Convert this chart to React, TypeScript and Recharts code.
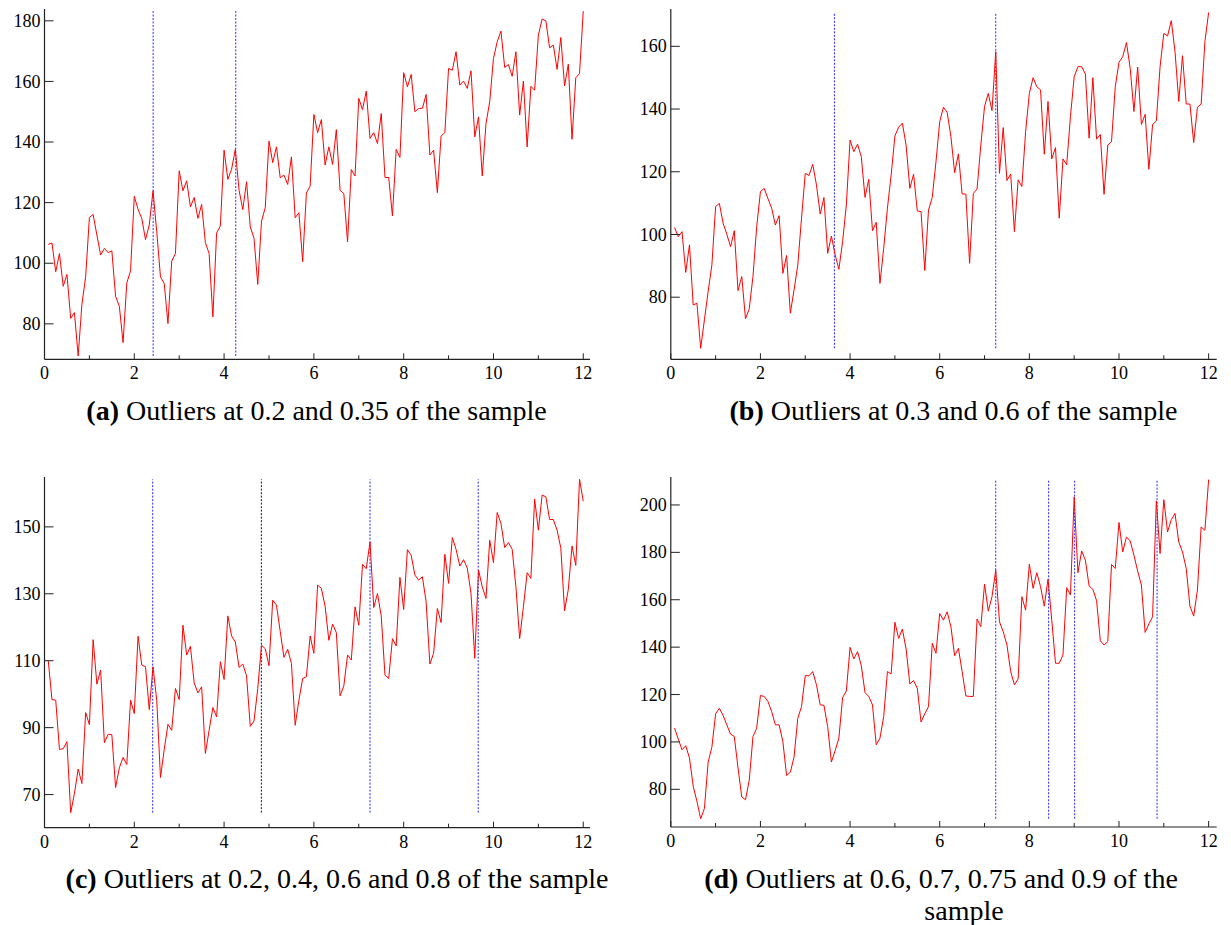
import React from "react";
import { LineChart, Line, XAxis, YAxis, ReferenceLine } from "recharts";

// month positions 1/12 .. 12 (one point per month over 12 years)
const months = Array.from({ length: 144 }, (_u, i) => (i + 1) / 12);
const xTicks = [0, 1, 2, 3, 4, 5, 6, 7, 8, 9, 10, 11, 12];

const seriesA = [
  106.2, 106.7, 97.2, 103.2, 92.4, 96.3, 81.8, 83.7, 69.4, 86.5, 95.5, 115.1,
  116.1, 109.3, 102.7, 104.9, 103.5, 104.1, 89.1, 85.8, 73.8, 93.5, 97.5, 122.1,
  117.8, 114.8, 107.8, 112.6, 123.9, 110.4, 95.5, 93.3, 80.1, 100.7, 103.2, 130.5,
  123.9, 127.2, 118.6, 121.7, 114.8, 119.4, 106.8, 103.2, 82.3, 110.0, 112.3, 137.3,
  127.7, 131.0, 137.6, 124.1, 117.7, 126.9, 112.0, 108.2, 93.0, 113.9, 118.3, 140.3,
  133.2, 138.4, 128.2, 129.1, 126.0, 135.1, 115.0, 116.7, 100.5, 123.2, 125.5, 149.1,
  143.1, 147.4, 132.4, 138.4, 132.6, 144.1, 124.1, 123.0, 107.1, 130.9, 128.8, 154.4,
  150.7, 156.8, 141.2, 143.1, 139.5, 149.4, 128.3, 128.3, 115.6, 137.6, 134.9, 162.9,
  158.2, 162.3, 150.0, 151.1, 151.1, 155.7, 135.7, 137.3, 123.3, 142.0, 143.1, 164.3,
  163.7, 169.8, 158.8, 160.1, 157.7, 163.5, 141.7, 148.3, 128.8, 146.1, 153.3, 167.6,
  173.1, 176.6, 164.6, 165.6, 161.7, 169.8, 148.9, 160.1, 138.4, 158.4, 157.1, 175.3,
  180.6, 180.0, 171.1, 172.0, 164.0, 174.5, 158.5, 165.7, 140.9, 161.2, 162.6, 183.2,
];

const seriesB = [
  102.2, 99.3, 100.9, 87.9, 96.7, 77.5, 78.1, 63.7, 72.8, 81.8, 90.3, 108.9,
  109.9, 103.6, 100.1, 96.1, 101.2, 82.1, 86.6, 73.1, 76.3, 86.6, 102.5, 113.7,
  114.7, 111.5, 108.4, 103.0, 106.0, 87.6, 93.3, 74.9, 82.3, 90.3, 105.2, 119.5,
  118.8, 122.4, 115.8, 106.5, 111.8, 94.0, 99.5, 93.5, 88.9, 97.7, 109.4, 130.1,
  126.4, 128.8, 124.8, 111.8, 117.6, 101.2, 103.9, 84.4, 95.6, 108.4, 119.0, 131.4,
  134.2, 135.5, 128.5, 114.7, 119.2, 107.5, 107.3, 88.5, 107.8, 111.8, 123.2, 136.0,
  140.6, 138.9, 131.2, 119.7, 125.7, 112.9, 112.9, 90.8, 113.1, 114.5, 128.5, 140.8,
  145.0, 139.5, 158.3, 119.5, 134.1, 117.2, 119.3, 100.9, 117.4, 115.3, 132.8, 145.0,
  150.0, 147.1, 146.1, 125.6, 142.4, 124.1, 127.7, 105.2, 124.1, 122.2, 137.6, 150.3,
  153.5, 153.5, 151.2, 130.7, 150.0, 130.4, 131.9, 112.8, 128.5, 129.6, 147.1, 154.9,
  156.7, 161.2, 153.0, 139.2, 153.4, 135.1, 138.3, 120.8, 135.1, 136.2, 153.5, 164.1,
  163.3, 168.2, 158.3, 142.4, 157.0, 141.6, 141.6, 129.3, 140.6, 141.6, 161.5, 170.8,
];

const seriesC = [
  110.0, 98.4, 98.2, 83.5, 83.7, 85.8, 64.6, 70.3, 77.6, 73.3, 94.5, 90.9,
  116.3, 103.0, 107.2, 85.5, 88.0, 87.9, 72.1, 78.0, 81.1, 79.0, 98.2, 94.2,
  117.3, 108.7, 108.2, 95.4, 108.2, 98.2, 75.1, 83.5, 91.0, 89.2, 101.7, 98.4,
  120.6, 111.7, 114.3, 103.4, 100.4, 102.2, 82.3, 89.2, 96.0, 93.2, 109.7, 104.4,
  123.4, 117.4, 115.6, 108.0, 109.0, 105.5, 90.4, 92.0, 101.7, 114.6, 113.6, 108.5,
  128.1, 126.6, 118.8, 111.0, 113.4, 109.2, 90.7, 98.2, 104.7, 105.2, 117.4, 112.2,
  132.6, 131.6, 126.3, 116.1, 120.9, 118.4, 99.5, 102.5, 111.7, 110.2, 126.1, 120.6,
  138.8, 137.5, 145.5, 125.9, 130.1, 123.4, 105.7, 104.7, 116.6, 114.4, 134.9, 125.3,
  143.2, 141.5, 135.6, 134.1, 135.1, 127.6, 109.0, 112.2, 125.6, 121.4, 141.8, 133.1,
  146.8, 143.3, 138.3, 140.2, 137.7, 130.1, 110.7, 137.1, 132.1, 128.6, 146.0, 139.3,
  154.3, 151.0, 143.8, 145.3, 143.3, 132.1, 116.6, 126.1, 136.3, 134.6, 158.3, 149.0,
  159.5, 159.0, 152.2, 152.2, 149.0, 143.7, 124.9, 131.3, 144.3, 138.5, 164.2, 157.7,
];

const seriesD = [
  105.8, 101.2, 96.7, 98.4, 93.2, 81.3, 74.9, 67.6, 71.9, 91.5, 97.8, 111.9,
  114.2, 111.2, 107.2, 103.3, 102.3, 89.0, 76.8, 75.6, 83.8, 102.3, 105.8, 119.6,
  119.2, 117.1, 112.8, 107.2, 107.2, 100.2, 85.8, 87.2, 93.6, 110.0, 114.9, 128.0,
  127.9, 129.7, 124.1, 115.6, 115.5, 106.5, 91.5, 96.3, 101.6, 118.7, 121.5, 139.9,
  135.0, 138.1, 132.2, 120.8, 119.2, 115.6, 98.8, 101.6, 110.7, 129.7, 128.7, 150.5,
  143.7, 147.6, 139.2, 124.5, 125.9, 122.7, 108.4, 111.9, 114.9, 141.6, 137.4, 154.2,
  151.4, 154.9, 148.6, 136.4, 139.5, 129.7, 119.4, 119.2, 119.2, 151.9, 148.6, 166.6,
  155.2, 161.3, 172.5, 150.7, 146.5, 140.9, 129.7, 124.1, 126.6, 161.3, 155.6, 175.0,
  164.8, 171.4, 165.5, 157.3, 168.7, 151.4, 133.2, 133.2, 136.7, 165.1, 162.0, 203.4,
  171.4, 180.6, 176.7, 165.8, 164.4, 159.6, 142.7, 140.9, 142.3, 174.9, 173.2, 192.6,
  180.2, 186.5, 184.8, 178.8, 172.1, 166.2, 146.2, 149.8, 152.8, 201.7, 179.5, 202.2,
  188.6, 193.8, 196.4, 184.4, 180.2, 173.2, 157.3, 153.1, 164.1, 190.7, 189.3, 210.7,
];

const yTicksA = [80, 100, 120, 140, 160, 180];
const yTicksB = [80, 100, 120, 140, 160];
const yTicksC = [70, 90, 110, 130, 150];
const yTicksD = [80, 100, 120, 140, 160, 180, 200];

const outliersA = [2.42, 4.26];
const outliersB = [3.65, 7.25];
const outliersC = [2.41, 4.83, 7.25, 9.66];
const outliersD = [7.25, 8.43, 9.01, 10.85];

const FONT = "'Liberation Serif', 'Times New Roman', serif";

function YTick(props: any) {
  const { x, y, payload } = props;
  return (
    <g>
      <line x1={x} y1={y} x2={x + 9} y2={y} stroke="#222" strokeWidth={1} />
      <text x={x - 4} y={y} dy="0.34em" textAnchor="end" fontFamily={FONT} fontSize={18} fill="#000">
        {payload.value}
      </text>
    </g>
  );
}

function XTick(props: any) {
  const { x, y, payload } = props;
  const major = payload.value % 2 === 0;
  return (
    <g>
      <line x1={x} y1={y} x2={x} y2={y - (major ? 6 : 4)} stroke="#222" strokeWidth={1} />
      {major && (
        <text x={x} y={y + 20} textAnchor="middle" fontFamily={FONT} fontSize={18} fill="#000">
          {payload.value}
        </text>
      )}
    </g>
  );
}

interface PanelProps {
  values: number[];
  left: number;
  top: number;
  yAxisWidth: number;
  rightMargin: number;
  xAxisHeight: number;
  xMax: number;
  yDomain: [number, number];
  yTicks: number[];
  outliers: number[];
  darkIndex?: number;
}

function Panel({ values, left, top, yAxisWidth, rightMargin, xAxisHeight, xMax, yDomain, yTicks, outliers, darkIndex }: PanelProps) {
  const rows = months.map((t, i) => ({ t, v: values[i] }));
  const lo = Math.min(...values);
  const hi = Math.max(...values);
  return (
    <div style={{ position: "absolute", left, top }}>
      <LineChart width={600} height={400} data={rows} margin={{ top: 9, right: rightMargin, bottom: 0, left: 0 }}>
        <XAxis
          dataKey="t"
          type="number"
          domain={[0, xMax]}
          ticks={xTicks}
          interval={0}
          allowDataOverflow
          height={xAxisHeight}
          tickSize={0}
          tickMargin={0}
          tickLine={false}
          axisLine={{ stroke: "#222", strokeWidth: 1.2 }}
          tick={(p: any) => <XTick {...p} />}
        />
        <YAxis
          type="number"
          domain={yDomain}
          ticks={yTicks}
          interval={0}
          allowDataOverflow
          width={yAxisWidth}
          tickSize={0}
          tickMargin={0}
          tickLine={false}
          axisLine={{ stroke: "#222", strokeWidth: 1.2 }}
          tick={(p: any) => <YTick {...p} />}
        />
        {outliers.map((o, k) => (
          <ReferenceLine
            key={k}
            segment={[{ x: o, y: lo }, { x: o, y: hi }]}
            stroke={k === darkIndex ? "#111133" : "#2a2aff"}
            strokeWidth={1}
            strokeDasharray="2 1.5"
            ifOverflow="visible"
          />
        ))}
        <Line type="linear" dataKey="v" stroke="#ff0000" strokeWidth={1} dot={false} isAnimationActive={false} />
      </LineChart>
    </div>
  );
}

const captionStyle: React.CSSProperties = {
  position: "absolute",
  transform: "translate(-50%, -50%)",
  whiteSpace: "nowrap",
  fontFamily: FONT,
  fontSize: 28,
  color: "#000",
  lineHeight: 1,
};

export default function App() {
  return (
    <div style={{ position: "absolute", left: 0, top: 0, width: 1231, height: 925, background: "#fff" }}>
      <Panel values={seriesA} left={0} top={0} yAxisWidth={44.5} rightMargin={10} xAxisHeight={40.7} xMax={12.15} yDomain={[68.3, 183.9]} yTicks={yTicksA} outliers={outliersA} />
      <Panel values={seriesB} left={626} top={0} yAxisWidth={44.8} rightMargin={9.3} xAxisHeight={40.7} xMax={12.18} yDomain={[60.2, 171.9]} yTicks={yTicksB} outliers={outliersB} />
      <Panel values={seriesC} left={0} top={468} yAxisWidth={44.5} rightMargin={10} xAxisHeight={40.3} xMax={12.15} yDomain={[60.1, 164.9]} yTicks={yTicksC} outliers={outliersC} darkIndex={1} />
      <Panel values={seriesD} left={626} top={468} yAxisWidth={44.8} rightMargin={9.3} xAxisHeight={41} xMax={12.18} yDomain={[64.1, 211.8]} yTicks={yTicksD} outliers={outliersD} />

      <div style={{ ...captionStyle, left: 316.5, top: 411 }}>
        <b>(a)</b> Outliers at 0.2 and 0.35 of the sample
      </div>
      <div style={{ ...captionStyle, left: 953.5, top: 411 }}>
        <b>(b)</b> Outliers at 0.3 and 0.6 of the sample
      </div>
      <div style={{ ...captionStyle, left: 337, top: 879 }}>
        <b>(c)</b> Outliers at 0.2, 0.4, 0.6 and 0.8 of the sample
      </div>
      <div style={{ ...captionStyle, left: 941, top: 879 }}>
        <b>(d)</b> Outliers at 0.6, 0.7, 0.75 and 0.9 of the
      </div>
      <div style={{ ...captionStyle, left: 964, top: 911 }}>sample</div>
    </div>
  );
}
